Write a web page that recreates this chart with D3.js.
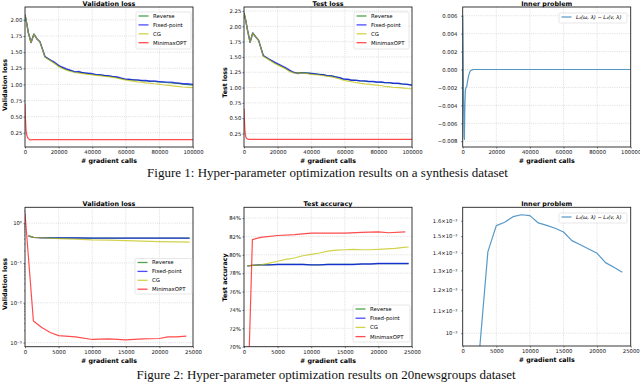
<html>
<head>
<meta charset="utf-8">
<style>
  body { margin: 0; background: #fff; }
  svg text { font-family: "DejaVu Sans", sans-serif; }
  .cap { font-family: "Liberation Serif", "Times New Roman", serif; font-size: 13px; fill: #111; }
  .ttl { font-weight: bold; font-size: 6.4px; }
  .lab { font-weight: bold; font-size: 6.3px; }
  .tick text { font-size: 5.3px; fill: #111; }
  .tick line { stroke: #222; stroke-width: 0.6; }
  .domain { display: none; }
</style>
</head>
<body>
<svg id="fig" width="640" height="382"></svg>
<script src="https://cdn.jsdelivr.net/npm/d3@7/dist/d3.min.js"></script>
<script>
// ---- series names / colours
const names = ['Reverse', 'Fixed-point', 'CG', 'MinimaxOPT']
const colors = ['#008000', '#0000ff', '#bfbf00', '#ff0000']

// ---- Figure 1 (synthesis): validation loss
const valX = [0, 1000, 2000, 3600, 5300, 7300, 8900, 11900, 14900, 17800, 19800, 22000, 24700, 27000, 29700, 32000, 34600, 37000, 39600, 42000, 44500, 47000, 49500, 52000, 54400, 57000, 59400, 62000, 64300, 67000, 69300, 72000, 74200, 77000, 79200, 82000, 84100, 87000, 89100, 92000, 94000, 97000, 100000]
const valReverse = [2.08, 1.95, 1.80, 1.65, 1.78, 1.70, 1.66, 1.43, 1.38, 1.33, 1.29, 1.26, 1.23, 1.215, 1.20, 1.19, 1.18, 1.17, 1.16, 1.15, 1.145, 1.14, 1.13, 1.12, 1.11, 1.095, 1.08, 1.075, 1.07, 1.065, 1.06, 1.055, 1.05, 1.045, 1.04, 1.035, 1.03, 1.025, 1.02, 1.012, 1.005, 0.998, 0.99]
const valFixed = [2.08, 1.95, 1.80, 1.65, 1.78, 1.70, 1.66, 1.43, 1.38, 1.34, 1.30, 1.27, 1.24, 1.22, 1.19, 1.20, 1.18, 1.175, 1.17, 1.155, 1.15, 1.14, 1.135, 1.125, 1.12, 1.10, 1.085, 1.08, 1.07, 1.07, 1.06, 1.06, 1.05, 1.055, 1.045, 1.04, 1.035, 1.035, 1.025, 1.02, 1.01, 1.01, 1.00]
const valCG = [2.08, 1.95, 1.80, 1.65, 1.78, 1.70, 1.66, 1.42, 1.37, 1.32, 1.28, 1.25, 1.22, 1.20, 1.185, 1.175, 1.165, 1.155, 1.15, 1.14, 1.135, 1.125, 1.12, 1.11, 1.10, 1.085, 1.07, 1.06, 1.05, 1.04, 1.035, 1.025, 1.02, 1.01, 1.005, 0.995, 0.99, 0.98, 0.975, 0.965, 0.96, 0.955, 0.95]
const valMmX = [0, 300, 600, 1000, 1500, 2000, 3000, 5000, 10000, 100000]
const valMm = [0.70, 0.45, 0.30, 0.22, 0.18, 0.16, 0.14, 0.145, 0.145, 0.145]

// ---- Figure 1: test loss
const testX = [0, 1000, 2000, 3600, 5200, 7500, 8700, 11500, 14500, 18500, 21400, 24400, 27400, 29400, 32000, 34400, 37000, 39300, 42000, 44300, 47000, 49200, 52000, 54200, 57000, 59100, 62000, 64000, 67000, 69000, 72000, 73900, 77000, 78800, 82000, 83800, 87000, 88700, 92000, 93700, 97000, 100000]
const testReverse = [2.22, 2.10, 1.95, 1.74, 1.89, 1.81, 1.77, 1.52, 1.47, 1.40, 1.36, 1.32, 1.27, 1.25, 1.245, 1.245, 1.24, 1.235, 1.225, 1.22, 1.21, 1.20, 1.19, 1.18, 1.16, 1.14, 1.13, 1.12, 1.115, 1.11, 1.105, 1.10, 1.095, 1.09, 1.085, 1.08, 1.075, 1.07, 1.065, 1.06, 1.05, 1.04]
const testFixed = [2.22, 2.10, 1.95, 1.74, 1.89, 1.81, 1.77, 1.52, 1.47, 1.41, 1.37, 1.33, 1.28, 1.25, 1.23, 1.24, 1.235, 1.23, 1.225, 1.215, 1.21, 1.195, 1.19, 1.175, 1.16, 1.14, 1.135, 1.12, 1.12, 1.11, 1.11, 1.10, 1.10, 1.09, 1.09, 1.08, 1.08, 1.07, 1.07, 1.06, 1.055, 1.04]
const testCG = [2.22, 2.10, 1.95, 1.74, 1.89, 1.81, 1.77, 1.51, 1.46, 1.39, 1.35, 1.31, 1.26, 1.24, 1.235, 1.235, 1.23, 1.22, 1.21, 1.205, 1.195, 1.185, 1.175, 1.16, 1.14, 1.12, 1.105, 1.095, 1.08, 1.07, 1.06, 1.055, 1.045, 1.04, 1.03, 1.02, 1.01, 1.005, 1.0, 0.995, 0.985, 0.98]
const testMmX = [0, 300, 600, 1000, 1500, 2500, 100000]
const testMm = [0.66, 0.45, 0.28, 0.20, 0.17, 0.155, 0.155]

// ---- Figure 1: inner problem
const innerX = [0, 200, 500, 800, 1000, 1300, 1600, 2000, 2400, 3000, 3400, 4000, 4400, 5000, 6300, 100000]
const innerVal = [0.006, 0.003, -0.003, -0.0075, -0.0078, -0.004, -0.0023, -0.0020, -0.0019, -0.0012, -0.0008, -0.0004, -0.0002, -0.0001, 0, 0]

// ---- Figure 2 (20newsgroups): validation loss (log)
const nvX = [500, 1250, 2500, 5000, 7500, 10000, 12500, 15000, 17500, 20000, 22500, 24500]
const nvReverse = [0.48, 0.44, 0.43, 0.425, 0.425, 0.42, 0.42, 0.42, 0.42, 0.42, 0.42, 0.42]
const nvFixed = [0.48, 0.44, 0.43, 0.425, 0.425, 0.42, 0.42, 0.42, 0.42, 0.42, 0.42, 0.42]
const nvCG = [0.48, 0.44, 0.43, 0.41, 0.395, 0.38, 0.375, 0.365, 0.355, 0.345, 0.34, 0.335]
const nvMmX = [0, 1250, 2500, 3750, 5000, 7500, 10000, 12500, 15000, 17500, 20000, 21250, 22500, 24000]
const nvMm = [1.8, 0.0035, 0.0024, 0.0018, 0.0015, 0.00139, 0.0012, 0.00124, 0.00117, 0.00124, 0.00127, 0.0014, 0.0014, 0.00146]

// ---- Figure 2: test accuracy (%)
const accX = [500, 1250, 2500, 3750, 5000, 6250, 7500, 8750, 10000, 11250, 12500, 13750, 15000, 16250, 17500, 18750, 20000, 21250, 22500, 23750, 24500]
const accReverse = [78.8, 78.85, 78.9, 78.9, 78.95, 78.95, 78.95, 78.95, 78.9, 78.9, 78.95, 78.95, 78.95, 78.95, 79.0, 79.0, 79.05, 79.05, 79.05, 79.05, 79.05]
const accFixed = [78.8, 78.85, 78.9, 78.9, 78.95, 78.95, 78.95, 78.95, 78.9, 78.9, 78.95, 78.95, 78.95, 78.95, 79.0, 79.0, 79.05, 79.05, 79.05, 79.05, 79.05]
const accCG = [78.8, 78.85, 78.9, 79.1, 79.3, 79.5, 79.65, 79.9, 80.05, 80.2, 80.4, 80.5, 80.55, 80.6, 80.55, 80.55, 80.6, 80.65, 80.7, 80.8, 80.85]
const accMmX = [0, 1250, 2500, 5000, 7500, 10000, 12500, 15000, 17500, 20000, 21500, 24000]
const accMm = [50, 81.65, 81.9, 82.1, 82.2, 82.35, 82.35, 82.35, 82.45, 82.5, 82.4, 82.5]

// ---- Figure 2: inner problem (log)
const innerNX = [1250, 2500, 3750, 5000, 6250, 7500, 8750, 10000, 11250, 12500, 13750, 15000, 16250, 17500, 18750, 20000, 21250, 22500, 23750]
const innerNVal = [0.0004, 0.00093, 0.001406, 0.001567, 0.00159, 0.001627, 0.00164, 0.001634, 0.001585, 0.001569, 0.00155, 0.001526, 0.001472, 0.001447, 0.001422, 0.001396, 0.001343, 0.001317, 0.00129]

// ---- tick values / labels
const xTicksTop = [0, 20000, 40000, 60000, 80000, 100000]
const xTicksBot = [0, 5000, 10000, 15000, 20000, 25000]
const yTicksVal = [0.25, 0.5, 0.75, 1.0, 1.25, 1.5, 1.75, 2.0]
const yTicksTest = [0.25, 0.5, 0.75, 1.0, 1.25, 1.5, 1.75, 2.0, 2.25]
const yTicksInner = [-0.008, -0.006, -0.004, -0.002, 0, 0.002, 0.004, 0.006]
const yTicksNv = [1, 0.1, 0.01, 0.001]
const yLabelsNv = ['10⁰', '10⁻¹', '10⁻²', '10⁻³']
const yTicksAcc = [70, 72, 74, 76, 78, 80, 82, 84]
const yTicksInnerN = [0.001, 0.0011, 0.0012, 0.0013, 0.0014, 0.0015, 0.0016]
const yLabelsInnerN = ['10⁻³', '1.1×10⁻³', '1.2×10⁻³', '1.3×10⁻³', '1.4×10⁻³', '1.5×10⁻³', '1.6×10⁻³']
const innerLegend = 'L₂(ω, λ) − L₂(v, λ)'

const svg = d3.select('#fig')
let clipN = 0

function panel(o) {
  const g = svg.append('g')
  const x = d3.scaleLinear().domain(o.xd).range([o.l, o.r])
  const y = (o.log ? d3.scaleLog() : d3.scaleLinear()).domain(o.yd).range([o.b, o.t])
  const cid = 'clip' + (clipN++)
  svg.append('clipPath').attr('id', cid).append('rect')
    .attr('x', o.l).attr('y', o.t).attr('width', o.r - o.l).attr('height', o.b - o.t)

  // grid
  g.selectAll('.gx').data(o.xt.slice(1, -1)).join('line')
    .attr('x1', d => x(d)).attr('x2', d => x(d)).attr('y1', o.t).attr('y2', o.b)
    .attr('stroke', '#c8c8c8').attr('stroke-width', 0.6).attr('stroke-dasharray', '1,1.2')
  g.selectAll('.gy').data(o.yg).join('line')
    .attr('x1', o.l).attr('x2', o.r).attr('y1', d => y(d)).attr('y2', d => y(d))
    .attr('stroke', '#c8c8c8').attr('stroke-width', 0.6).attr('stroke-dasharray', '1,1.2')

  // lines
  const line = d3.line().x(d => x(d[0])).y(d => y(d[1]))
  o.series.forEach(s => {
    g.append('path').datum(d3.zip(s.x, s.y))
      .attr('clip-path', `url(#${cid})`)
      .attr('d', line).attr('fill', 'none')
      .attr('stroke', s.c).attr('stroke-opacity', s.op || 0.7)
      .attr('stroke-width', s.w || 1.2).attr('stroke-linejoin', 'round')
  })

  // axes
  g.append('g').attr('class', 'ax').attr('transform', `translate(0,${o.b})`)
    .call(d3.axisBottom(x).tickValues(o.xt).tickSize(1.5).tickPadding(2).tickFormat(d3.format('d')))
  const ay = d3.axisLeft(y).tickValues(o.yt).tickSize(1.5).tickPadding(o.ypad || 1.2)
  if (o.yl) ay.tickFormat((d, i) => o.yl[i])
  else ay.tickFormat(o.yf)
  g.append('g').attr('class', 'ax').attr('transform', `translate(${o.l},0)`).call(ay)
  if (o.minor) {
    g.selectAll('.mn').data(o.minor).join('line')
      .attr('x1', o.l).attr('x2', o.l - 0.9).attr('y1', d => y(d)).attr('y2', d => y(d))
      .attr('stroke', '#222').attr('stroke-width', 0.5)
  }

  // frame
  g.append('rect').attr('x', o.l).attr('y', o.t).attr('width', o.r - o.l).attr('height', o.b - o.t)
    .attr('fill', 'none').attr('stroke', '#222').attr('stroke-width', 0.9)

  // title and labels
  g.append('text').attr('class', 'ttl').attr('x', (o.l + o.r) / 2).attr('y', o.t - 1.3)
    .attr('text-anchor', 'middle').text(o.title)
  g.append('text').attr('class', 'lab').attr('x', (o.l + o.r) / 2).attr('y', o.b + 16)
    .attr('text-anchor', 'middle').text('# gradient calls')
  if (o.ylab) {
    g.append('text').attr('class', 'lab').attr('text-anchor', 'middle')
      .attr('transform', `translate(${o.ylab[0]},${o.ylab[1]}) rotate(-90)`).text(o.ylab[2])
  }

  // legend
  const L = o.leg
  const lg = g.append('g').attr('transform', `translate(${L.x},${L.y})`)
  lg.append('rect').attr('width', L.w).attr('height', L.h).attr('rx', 1.5)
    .attr('fill', '#fff').attr('fill-opacity', 0.85).attr('stroke', '#d6d6d6').attr('stroke-width', 0.6)
  L.items.forEach((it, i) => {
    const yy = 4 + i * L.step
    lg.append('line').attr('x1', 2.5).attr('x2', 12.5).attr('y1', yy).attr('y2', yy)
      .attr('stroke', it.c).attr('stroke-opacity', 0.7).attr('stroke-width', 1.3)
    lg.append('text').attr('x', 17).attr('y', yy + 1.9).attr('font-size', L.fs || 5.4)
      .attr('font-family', L.ff || null).attr('font-style', L.fi || null).text(it.n)
  })
}

const legend4 = names.map((n, i) => ({ n: n, c: colors[i] }))

// ---------- Figure 1
panel({
  l: 25, r: 193, t: 7, b: 147, xd: [0, 100000], yd: [0.03, 2.2],
  xt: xTicksTop, yt: yTicksVal, yg: yTicksVal, yf: d3.format('.2f'),
  title: 'Validation loss', ylab: [7.3, 85, 'Validation loss'],
  series: [
    { x: valX, y: valReverse, c: colors[0] },
    { x: valX, y: valFixed, c: colors[1], w: 1.4 },
    { x: valX, y: valCG, c: colors[2] },
    { x: valMmX, y: valMm, c: colors[3] }],
  leg: { x: 136, y: 12, w: 55, h: 37, step: 8.9, items: legend4 }
})
panel({
  l: 244, r: 412, t: 7, b: 147, xd: [0, 100000], yd: [0.03, 2.315],
  xt: xTicksTop, yt: yTicksTest, yg: yTicksTest, yf: d3.format('.2f'),
  title: 'Test loss', ylab: [227.3, 82.5, 'Test loss'],
  series: [
    { x: testX, y: testReverse, c: colors[0] },
    { x: testX, y: testFixed, c: colors[1], w: 1.4 },
    { x: testX, y: testCG, c: colors[2] },
    { x: testMmX, y: testMm, c: colors[3] }],
  leg: { x: 354, y: 12, w: 55, h: 37, step: 8.9, items: legend4 }
})
panel({
  l: 462.7, r: 630.7, t: 7, b: 147, xd: [0, 100000], yd: [-0.00864, 0.00697],
  xt: xTicksTop, yt: yTicksInner, yg: yTicksInner, yf: d => d3.format('.3f')(d).replace('-', '−'), ypad: 3.8,
  title: 'Inner problem',
  series: [{ x: innerX, y: innerVal, c: '#1f77b4', op: 0.75, w: 1.2 }],
  leg: { x: 559, y: 13, w: 68, h: 10, step: 9, fs: 5.2, ff: 'DejaVu Serif', fi: 'italic', items: [{ n: innerLegend, c: '#1f77b4' }] }
})

// ---------- Figure 2
const nvMinor = []
;[0.001, 0.01, 0.1, 1].forEach(p => { for (let k = 2; k <= 9; k++) if (p * k < 2.5 && p * k > 0.00079) nvMinor.push(p * k) })
panel({
  l: 25, r: 193, t: 207.3, b: 346.7, xd: [0, 25000], yd: [0.00079, 2.5], log: true,
  xt: xTicksBot, yt: yTicksNv, yg: yTicksNv, yl: yLabelsNv, ypad: 1.5, minor: nvMinor,
  title: 'Validation loss', ylab: [7, 284, 'Validation loss'],
  series: [
    { x: nvX, y: nvReverse, c: colors[0] },
    { x: nvX, y: nvFixed, c: colors[1], w: 1.4 },
    { x: nvX, y: nvCG, c: colors[2] },
    { x: nvMmX, y: nvMm, c: colors[3] }],
  leg: { x: 135, y: 258.5, w: 57, h: 35.5, step: 8.9, items: legend4 }
})
panel({
  l: 244, r: 412, t: 207.3, b: 346.7, xd: [0, 25000], yd: [70, 85.17],
  xt: xTicksBot, yt: yTicksAcc, yg: yTicksAcc, yf: d => d + '%', ypad: 1.5,
  title: 'Test accuracy', ylab: [226.7, 277.5, 'Test accuracy'],
  series: [
    { x: accX, y: accReverse, c: colors[0] },
    { x: accX, y: accFixed, c: colors[1], w: 1.4 },
    { x: accX, y: accCG, c: colors[2] },
    { x: accMmX, y: accMm, c: colors[3] }],
  leg: { x: 353, y: 305, w: 57, h: 37, step: 9.2, items: legend4 }
})
panel({
  l: 462.7, r: 630.7, t: 207.3, b: 346, xd: [0, 25000], yd: [0.000948, 0.001692], log: true,
  xt: xTicksBot, yt: yTicksInnerN, yg: [0.001], yl: yLabelsInnerN, ypad: 3.8,
  title: 'Inner problem',
  series: [{ x: innerNX, y: innerNVal, c: '#1f77b4', op: 0.75, w: 1.2 }],
  leg: { x: 559, y: 213, w: 68, h: 10, step: 9, fs: 5.2, ff: 'DejaVu Serif', fi: 'italic', items: [{ n: innerLegend, c: '#1f77b4' }] }
})

// captions
svg.append('text').attr('class', 'cap').attr('x', 327.5).attr('y', 176.5).attr('text-anchor', 'middle')
  .text('Figure 1: Hyper-parameter optimization results on a synthesis dataset')
svg.append('text').attr('class', 'cap').attr('x', 326).attr('y', 378.5).attr('text-anchor', 'middle')
  .text('Figure 2: Hyper-parameter optimization results on 20newsgroups dataset')
</script>
</body>
</html>
